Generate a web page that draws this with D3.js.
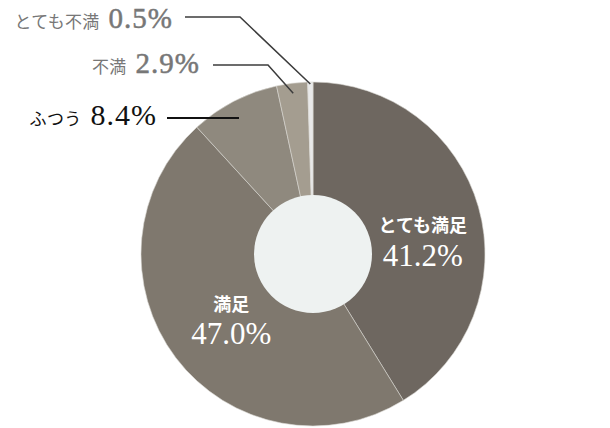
<!DOCTYPE html>
<meta charset="utf-8">
<title>満足度</title>
<script src="https://d3js.org/d3.v7.min.js"></script>
<style>
  body { margin: 0; background: #fff; }
  text { font-family: "Liberation Serif", "Noto Sans CJK JP", serif; }
</style>
<body>
<div id="chart"></div>
<script>
  // data
  var categories = ["とても満足", "満足", "ふつう", "不満", "とても不満"];
  var values = [41.2, 47.0, 8.4, 2.9, 0.5];
  var colors = ["#6e6760", "#7f786e", "#8f897e", "#a49d90", "#e9e9e9"];

  var width = 610, height = 428;
  var cx = 313, cy = 254, radius = 172, hole = 59;

  var svg = d3.select("#chart").append("svg")
    .attr("width", width)
    .attr("height", height);

  var g = svg.append("g")
    .attr("transform", "translate(" + cx + "," + cy + ")");

  var data = categories.map(function (c, i) { return { name: c, value: values[i], color: colors[i] }; });

  var pie = d3.pie().sort(null).value(function (d) { return d.value; });
  var arcs = pie(data);
  var arc = d3.arc().innerRadius(0).outerRadius(radius);

  g.selectAll("path.slice")
    .data(arcs)
    .enter()
    .append("path")
    .attr("class", "slice")
    .attr("d", arc)
    .attr("fill", function (d) { return d.data.color; })
    .attr("stroke", "#d8d6d2")
    .attr("stroke-width", 0.6);

  // center hole
  g.append("circle")
    .attr("r", hole)
    .attr("fill", "#eef2f1");

  // inside labels (big slices)
  var inside = {
    "とても満足": { r: 110, dx: 4, dy1: 8, dy2: 42 },
    "満足": { r: 110, dx: 6, dy1: -9, dy2: 24 }
  };

  arcs.filter(function (d) { return inside[d.data.name]; }).forEach(function (d) {
    var o = inside[d.data.name];
    var c = d3.arc().innerRadius(o.r).outerRadius(o.r).centroid(d);
    var x = c[0] + o.dx;
    g.append("text")
      .attr("x", x).attr("y", c[1] + o.dy1)
      .attr("text-anchor", "middle")
      .attr("fill", "#fff")
      .style("font-family", "'Noto Sans CJK JP'")
      .style("font-weight", "bold")
      .style("font-size", "18px")
      .text(d.data.name);
    g.append("text")
      .attr("x", x).attr("y", c[1] + o.dy2)
      .attr("text-anchor", "middle")
      .attr("fill", "#fff")
      .style("font-size", "31px")
      .text(d3.format(".1f")(d.data.value) + "%");
  });

  // outside labels with leader lines (positions in page coords)
  var outside = {
    "ふつう": { r: 155, elbowX: 239, y: 118, lineEnd: 167, color: "#111", lw: 2, tx: 157, ty: 125, size: 30 },
    "不満": { r: 162, elbowX: 268, y: 65, lineEnd: 213, color: "#777", lw: 1.5, tx: 200, ty: 73, size: 29 },
    "とても不満": { r: 170, elbowX: 240, y: 17, lineEnd: 185, color: "#777", lw: 1.5, tx: 173, ty: 28, size: 29 }
  };

  arcs.filter(function (d) { return outside[d.data.name]; }).forEach(function (d) {
    var o = outside[d.data.name];
    var p = d3.arc().innerRadius(o.r).outerRadius(o.r).centroid(d);
    var px = p[0] + cx, py = p[1] + cy;
    var lineColor = o.color === "#111" ? "#111" : "#3c3c3c";
    var pts = [[o.lineEnd, o.y], [o.elbowX, o.y]];
    if (Math.abs(py - o.y) > 2) pts.push([px, py]);
    svg.append("path")
      .attr("d", d3.line()(pts))
      .attr("fill", "none")
      .attr("stroke", lineColor)
      .attr("stroke-width", o.lw);

    var t = svg.append("text")
      .attr("x", o.tx).attr("y", o.ty)
      .attr("text-anchor", "end")
      .attr("fill", o.color);
    t.append("tspan")
      .style("font-family", "'Noto Sans CJK JP'")
      .style("font-size", "17px")
      .style("letter-spacing", "0.3px")
      .text(d.data.name);
    t.append("tspan")
      .attr("dx", 9)
      .style("font-size", o.size + "px")
      .style("letter-spacing", "1px")
      .style("stroke", o.color === "#111" ? "none" : o.color)
      .style("stroke-width", 0.5)
      .text(d3.format(".1f")(d.data.value) + "%");
  });
</script>
</body>
